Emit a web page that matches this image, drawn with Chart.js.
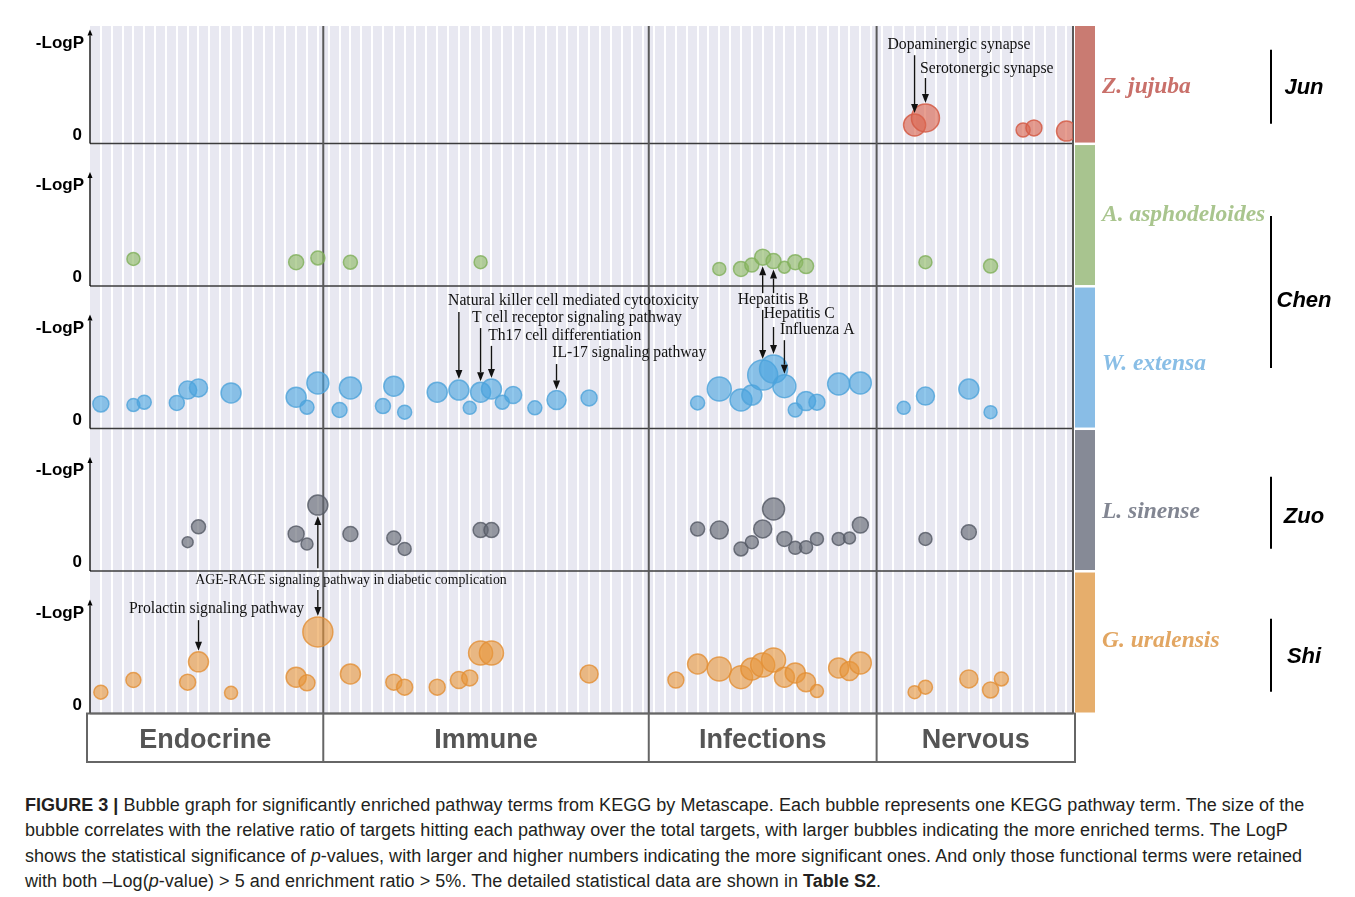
<!DOCTYPE html>
<html>
<head>
<meta charset="utf-8">
<title>Figure 3 - KEGG bubble graph</title>
<script src="https://cdn.jsdelivr.net/npm/chart.js@4.4.1/dist/chart.umd.min.js"></script>
<style>
  body { margin: 0; background: #fff; }
  #wrap { position: relative; width: 1355px; height: 897px; overflow: hidden; }
  #chart { position: absolute; left: 0; top: 0; }
  #caption {
    position: absolute; left: 25px; top: 793px;
    font-family: "Liberation Sans", Arial, sans-serif; font-size: 18px; letter-spacing: 0.04px;
    line-height: 25.3px; color: #231f20; white-space: nowrap;
  }
</style>
</head>
<body>
<div id="wrap">
  <canvas id="chart" width="1355" height="770"></canvas>
  <div id="caption">
    <div><b>FIGURE 3 |</b> Bubble graph for significantly enriched pathway terms from KEGG by Metascape. Each bubble represents one KEGG pathway term. The size of the</div>
    <div>bubble correlates with the relative ratio of targets hitting each pathway over the total targets, with larger bubbles indicating the more enriched terms. The LogP</div>
    <div>shows the statistical significance of <i>p</i>-values, with larger and higher numbers indicating the more significant ones. And only those functional terms were retained</div>
    <div>with both –Log(<i>p</i>-value) &gt; 5 and enrichment ratio &gt; 5%. The detailed statistical data are shown in <b>Table S2</b>.</div>
  </div>
</div>
<script>
const species = ["Z. jujuba", "A. asphodeloides", "W. extensa", "L. sinense", "G. uralensis"];
const groups = ["Jun", "Chen", "Zuo", "Shi"];
const groupRows = [[0], [1, 2], [3], [4]];
const categories = ["Endocrine", "Immune", "Infections", "Nervous"];
const categoryFirstTerm = [1, 22, 52, 73];
const lastTerm = 90;

// term = pathway column, logP = -LogP, size = bubble radius (enrichment ratio)
const junTerm = [76, 77, 86, 87, 90];
const junLogP = [5.2, 7.2, 3.8, 4.4, 3.5];
const junSize = [11, 14, 7, 8, 10];

const aspTerm = [4, 19, 21, 24, 36, 58, 60, 61, 62, 63, 64, 65, 66, 77, 83];
const aspLogP = [7.6, 6.7, 7.9, 6.7, 6.7, 4.8, 4.8, 5.9, 8.1, 7.0, 5.3, 6.7, 5.6, 6.7, 5.6];
const aspSize = [6.5, 7.5, 7, 7, 6.5, 6.5, 7.5, 7, 8, 7.5, 6, 7.5, 7.5, 6.5, 7];

const extTerm = [1, 4, 5, 8, 9, 10, 13, 19, 20, 21, 23, 24, 27, 28, 29, 32, 34, 35, 36, 37, 38, 39, 41, 43, 46,
                 56, 58, 60, 61, 62, 63, 64, 65, 66, 67, 69, 71, 75, 77, 81, 83];
const extLogP = [6.9, 6.6, 7.4, 7.2, 10.8, 11.4, 10.0, 8.8, 6.0, 12.8, 5.2, 11.4, 6.3, 11.9, 4.6, 10.2, 10.8, 5.8, 10.2, 11.1, 7.4, 9.4, 5.8, 8.0, 8.6,
                 7.2, 11.1, 8.0, 9.4, 15.0, 16.7, 11.9, 5.2, 7.7, 7.4, 12.5, 12.8, 5.8, 9.1, 11.1, 4.6];
const extSize = [8, 6.5, 7, 7.5, 9, 9, 10, 10, 7, 11, 7.5, 11, 7.5, 10, 7, 10, 10, 6.5, 10, 10, 7, 8.5, 7, 9.5, 8,
                 7, 12, 11, 10, 15, 14, 11.5, 7, 9.5, 8, 11, 11, 6.5, 9, 10, 6.5];

const sinTerm = [9, 10, 19, 20, 21, 24, 28, 29, 36, 37, 56, 58, 60, 61, 62, 63, 64, 65, 66, 67, 69, 70, 71, 77, 81];
const sinLogP = [8.1, 12.4, 10.4, 7.6, 18.5, 10.4, 9.3, 6.2, 11.5, 11.5, 11.8, 11.5, 6.2, 8.1, 11.8, 17.4, 9.0, 6.5, 6.7, 9.0, 9.0, 9.3, 12.9, 9.0, 10.9];
const sinSize = [5.5, 7, 8, 6, 10, 7.5, 7, 6.5, 7.5, 7.5, 7, 9, 7, 6.5, 9, 11, 7.5, 6.5, 6.5, 6.5, 6.5, 6, 8, 6.5, 7.5];

const uraTerm = [1, 4, 9, 10, 13, 19, 20, 21, 24, 28, 29, 32, 34, 35, 36, 37, 46, 54, 56, 58,
                 60, 61, 62, 63, 64, 65, 66, 67, 69, 70, 71, 76, 77, 81, 83, 84];
const uraLogP = [6.0, 9.4, 8.8, 14.5, 5.8, 10.2, 8.6, 22.9, 11.1, 8.8, 7.4, 7.4, 9.4, 10.0, 17.0, 17.0, 11.1, 9.4, 13.9, 12.5,
                 10.2, 12.5, 13.6, 15.0, 10.2, 11.4, 8.8, 6.3, 12.8, 11.9, 14.2, 6.0, 7.4, 9.7, 6.6, 9.7];
const uraSize = [7, 7.5, 8, 10, 6.5, 10, 8, 15, 10, 8, 8, 8, 8.5, 8, 12, 12, 9, 8, 10, 12,
                 11.5, 11, 12, 12, 10, 10, 9.5, 6.5, 10, 9.5, 11, 6.5, 7, 9, 8, 7];

const rows = [
  { term: junTerm, logP: junLogP, size: junSize },
  { term: aspTerm, logP: aspLogP, size: aspSize },
  { term: extTerm, logP: extLogP, size: extSize },
  { term: sinTerm, logP: sinLogP, size: sinSize },
  { term: uraTerm, logP: uraLogP, size: uraSize }
];

// labelled pathways: text sits in panel `row`, arrows point at a term of panel `to`
const notes = [
  { text: "Dopaminergic synapse", row: 0, x: 73.5, y: 27.6, arrows: [{ to: 0, term: 76, from: 24.8 }] },
  { text: "Serotonergic synapse", row: 0, x: 76.5, y: 20.9, arrows: [{ to: 0, term: 77, from: 18.4 }] },
  { text: "Natural killer cell mediated cytotoxicity", row: 2, x: 33.0, y: 35.8, arrows: [{ to: 2, term: 34, from: 32.7 }] },
  { text: "T cell receptor signaling pathway", row: 2, x: 35.2, y: 31.0, arrows: [{ to: 2, term: 36, from: 28.2 }] },
  { text: "Th17 cell differentiation", row: 2, x: 36.7, y: 26.0, arrows: [{ to: 2, term: 37, from: 23.2 }] },
  { text: "IL-17 signaling pathway", row: 2, x: 42.6, y: 21.2, arrows: [{ to: 2, term: 43, from: 18.1 }] },
  { text: "Hepatitis B", row: 2, x: 59.7, y: 36.1, arrows: [{ to: 1, term: 62, from: 38.0 }, { to: 2, term: 62, from: 33.3 }] },
  { text: "Hepatitis C", row: 2, x: 62.1, y: 32.1, arrows: [{ to: 1, term: 63, from: 38.0 }, { to: 2, term: 63, from: 28.5 }] },
  { text: "Influenza A", row: 2, x: 63.6, y: 27.6, arrows: [{ to: 2, term: 64, from: 24.8 }] },
  { text: "AGE-RAGE signaling pathway in diabetic complication", row: 3, x: 9.7, y: -2.5, small: true,
    arrows: [{ to: 3, term: 21, from: 0.8 }, { to: 4, term: 21, from: -5.3 }] },
  { text: "Prolactin signaling pathway", row: 4, x: 3.6, y: 29.3, arrows: [{ to: 4, term: 10, from: 26.2 }] }
];

const rowMax = [33, 40, 40, 40, 40];
const bubbleFill = ["rgba(218,100,78,0.62)", "rgba(140,184,98,0.62)", "rgba(72,164,224,0.6)", "rgba(98,103,114,0.64)", "rgba(232,150,58,0.6)"];
const bubbleLine = ["rgba(212,92,70,0.85)", "rgba(128,175,90,0.8)", "rgba(78,162,218,0.8)", "rgba(84,89,100,0.8)", "rgba(226,142,52,0.8)"];
const barColor = ["#c97b72", "#a8c48f", "#89bde6", "#868a96", "#e6ae6c"];
const nameColor = ["#c9706a", "#a9c58e", "#89bee6", "#828692", "#e2a662"];
const nameShift = [2, 0, 7, 12, -1];
const groupShift = [2, 6, 13, 13];
const groupHalf = [37, 76, 36, 36.5];
const groupTextShift = [1, 9, 4, 1.5];

const termTicks = [];
for (let t = 1; t <= lastTerm; t++) termTicks.push(t);

function line(ctx, x0, y0, x1, y1) {
  ctx.beginPath(); ctx.moveTo(x0, y0); ctx.lineTo(x1, y1); ctx.stroke();
}

function arrow(ctx, x, y0, y1, head, half) {
  const d = y1 > y0 ? 1 : -1;
  line(ctx, x, y0, x, y1 - head * d);
  ctx.beginPath();
  ctx.moveTo(x, y1);
  ctx.lineTo(x - half, y1 - head * d);
  ctx.lineTo(x + half, y1 - head * d);
  ctx.closePath();
  ctx.fill();
}

const figurePlugin = {
  id: "figure",
  beforeDraw(chart) {
    const { ctx, chartArea: a } = chart;
    ctx.save();
    ctx.fillStyle = "#ffffff";
    ctx.fillRect(0, 0, chart.width, chart.height);
    ctx.fillStyle = "#e8e8f1";
    ctx.fillRect(a.left, a.top, a.right - a.left, a.bottom - a.top);
    ctx.restore();
  },
  beforeDatasetsDraw(chart) {
    const { ctx, chartArea: a, scales } = chart;
    const xs = scales.x;
    ctx.save();
    ctx.strokeStyle = "#3c3c3c";
    ctx.lineWidth = 1.5;
    species.forEach((s, k) => {
      const y = scales["y" + k].getPixelForValue(0);
      line(ctx, a.left, y, a.right, y);
    });
    ctx.strokeStyle = "#5a5a5a";
    ctx.lineWidth = 2;
    categoryFirstTerm.slice(1).forEach(t => {
      const x = xs.getPixelForValue(t - 0.5);
      line(ctx, x, a.top, x, a.bottom);
    });
    line(ctx, a.right, a.top, a.right, a.bottom);

    // little -LogP axes
    ctx.strokeStyle = "#000";
    ctx.fillStyle = "#000";
    ctx.lineWidth = 1.3;
    ctx.font = "bold 17px 'Liberation Sans', Arial, sans-serif";
    ctx.textAlign = "right";
    ctx.textBaseline = "middle";
    species.forEach((s, k) => {
      const ys = scales["y" + k];
      arrow(ctx, a.left, ys.getPixelForValue(0), ys.getPixelForValue(32), 6, 2.5);
      ctx.fillText("-LogP", a.left - 6, ys.getPixelForValue(28.2));
      ctx.fillText("0", a.left - 8, ys.getPixelForValue(0) - 8.5);
    });
    ctx.restore();
  },
  afterDatasetsDraw(chart) {
    const { ctx, scales } = chart;
    const xs = scales.x;
    ctx.save();
    ctx.fillStyle = "#111";
    ctx.strokeStyle = "#111";
    ctx.lineWidth = 1.4;
    ctx.textAlign = "left";
    ctx.textBaseline = "middle";
    notes.forEach(n => {
      const ys = scales["y" + n.row];
      ctx.font = (n.small ? "13.8px" : "15.7px") + " 'Liberation Serif', 'Times New Roman', serif";
      ctx.fillText(n.text, xs.getPixelForValue(n.x), ys.getPixelForValue(n.y));
      n.arrows.forEach(ar => {
        const idx = rows[ar.to].term.indexOf(ar.term);
        const el = chart.getDatasetMeta(ar.to).data[idx];
        const r = rows[ar.to].size[idx];
        const y0 = ys.getPixelForValue(ar.from);
        const tip = el.y > y0 ? el.y - r - 1 : el.y + r + 1;
        arrow(ctx, el.x, y0, tip, 9, 3.5);
      });
    });
    ctx.restore();
  },
  afterDraw(chart) {
    const { ctx, chartArea: a, scales } = chart;
    const xs = scales.x;
    ctx.save();

    // category boxes under the panels
    const boxTop = a.bottom, boxBottom = 762, boxLeft = a.left - 3, boxRight = a.right + 2;
    ctx.strokeStyle = "#666";
    ctx.lineWidth = 2;
    ctx.strokeRect(boxLeft, boxTop, boxRight - boxLeft, boxBottom - boxTop);
    const edges = categoryFirstTerm.map(t => xs.getPixelForValue(t - 0.5));
    edges[0] = boxLeft;
    edges.push(boxRight);
    edges.slice(1, -1).forEach(x => line(ctx, x, boxTop, x, boxBottom));
    ctx.fillStyle = "#555";
    ctx.font = "bold 27px 'Liberation Sans', Arial, sans-serif";
    ctx.textAlign = "center";
    ctx.textBaseline = "middle";
    categories.forEach((c, i) => ctx.fillText(c, (edges[i] + edges[i + 1]) / 2, (boxTop + boxBottom) / 2 + 3));

    // species colour bars and names
    ctx.textAlign = "left";
    ctx.font = "bold italic 23.5px 'Liberation Serif', 'Times New Roman', serif";
    species.forEach((s, k) => {
      const ys = scales["y" + k];
      ctx.fillStyle = barColor[k];
      const top = ys.top + (k ? 1.5 : 0);
      ctx.fillRect(a.right + 2, top, 20, ys.bottom - 1 - top);
      ctx.fillStyle = nameColor[k];
      ctx.fillText(s, 1102, (ys.top + ys.bottom) / 2 + nameShift[k]);
    });

    // family groups
    ctx.strokeStyle = "#000";
    ctx.fillStyle = "#000";
    ctx.lineWidth = 2;
    ctx.textAlign = "center";
    ctx.font = "bold italic 22px 'Liberation Sans', Arial, sans-serif";
    groups.forEach((g, i) => {
      const first = scales["y" + groupRows[i][0]];
      const last = scales["y" + groupRows[i][groupRows[i].length - 1]];
      const mid = (first.top + last.bottom) / 2 + groupShift[i];
      line(ctx, 1271, mid - groupHalf[i], 1271, mid + groupHalf[i]);
      ctx.fillText(g, 1304, mid + groupTextShift[i]);
    });
    ctx.restore();
  }
};

const datasets = rows.map((row, k) => ({
  label: species[k],
  data: row.term.map((t, i) => ({ x: t, y: row.logP[i], r: row.size[i] })),
  yAxisID: "y" + k,
  backgroundColor: bubbleFill[k],
  borderColor: bubbleLine[k],
  borderWidth: 1.5,
  clip: 0
}));

const scales = {
  x: {
    type: "linear", position: "bottom", min: 0, max: 90.6,
    ticks: { display: false },
    border: { display: false },
    grid: { color: "#ffffff", lineWidth: 2, drawTicks: false },
    afterBuildTicks: axis => { axis.ticks = termTicks.map(v => ({ value: v })); }
  }
};
species.forEach((s, k) => {
  scales["y" + k] = {
    type: "linear", position: "left", stack: "rows", stackWeight: rowMax[k] / 40,
    weight: species.length - k, min: 0, max: rowMax[k], display: false
  };
});

new Chart(document.getElementById("chart"), {
  type: "bubble",
  data: { datasets: datasets },
  options: {
    responsive: false,
    animation: false,
    devicePixelRatio: 1,
    layout: { padding: { left: 90, top: 26, right: 282, bottom: 56.5 } },
    plugins: { legend: { display: false }, tooltip: { enabled: false } },
    scales: scales
  },
  plugins: [figurePlugin]
});
</script>
</body>
</html>
